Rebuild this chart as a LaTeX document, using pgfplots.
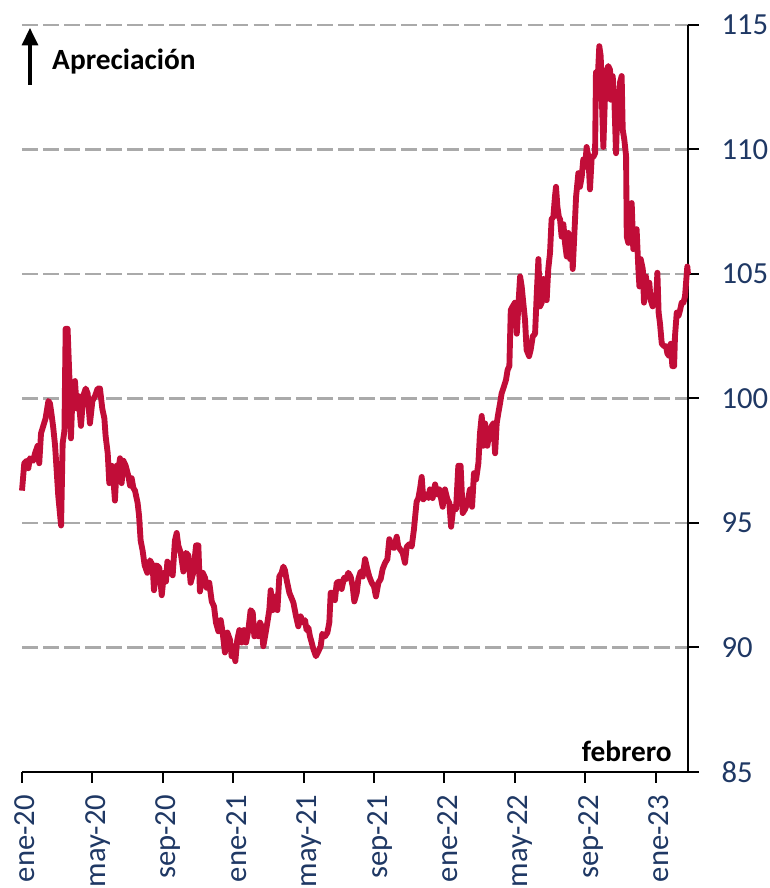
\documentclass[border=0pt]{standalone}
\usepackage{fontspec}
\setmainfont{Carlito}
\usepackage{pgfplots}
\pgfplotsset{compat=1.18}
\usetikzlibrary{arrows.meta}
\definecolor{linered}{RGB}{193,13,56}
\definecolor{ticknavy}{RGB}{31,56,100}
\definecolor{gridgray}{RGB}{170,170,170}
\begin{document}
\begin{tikzpicture}
\begin{axis}[
  at={(0,0)}, anchor=south west,
  scale only axis, width=499.5pt, height=560.25pt,
  xmin=0, xmax=37.84, ymin=85, ymax=115,
  axis x line*=bottom, axis y line*=right,
  axis line style={line width=1.5pt, black, -},
  xtick={0,4,...,36},
  xticklabels={ene-20,may-20,sep-20,ene-21,may-21,sep-21,ene-22,may-22,sep-22,ene-23},
  ytick={85,90,...,115},
  tick align=outside,
  major tick length=8pt,
  tick style={line width=1.5pt, black},
  ymajorgrids,
  grid style={line width=1.7pt, gridgray, dash pattern=on 11.8pt off 4pt},
  xticklabel style={yshift=-9pt, rotate=90, anchor=east, inner sep=0pt, text height=19.5pt, text depth=0pt, font=\fontsize{23}{27}\selectfont, text=ticknavy},
  yticklabel style={xshift=17pt, anchor=west, inner sep=0pt, font=\fontsize{23}{27}\selectfont, text=ticknavy},
  /pgf/number format/assume math mode=true,
  clip=false,
]
\addplot[linered, line width=4.4pt, line join=round] table {
x y
0.00 96.3
0.13 97.4
0.27 97.5
0.36 97.2
0.45 97.6
0.64 97.5
0.74 97.8
0.89 98.1
0.98 97.4
1.08 98.6
1.21 98.9
1.34 99.2
1.50 99.9
1.59 99.8
1.69 99.3
1.78 98.8
1.88 98.1
1.97 97.1
2.06 96.1
2.22 94.9
2.31 98.2
2.41 98.7
2.48 102.8
2.59 102.8
2.69 100.9
2.78 98.4
2.88 100.4
3.01 100.7
3.11 99.6
3.20 100.1
3.35 98.9
3.48 100.1
3.62 100.4
3.73 100.2
3.86 99.0
4.00 99.9
4.15 100.1
4.30 100.4
4.43 100.4
4.56 99.6
4.68 99.2
4.75 98.5
4.87 97.8
4.96 96.6
5.09 97.3
5.19 96.8
5.28 95.9
5.38 97.3
5.47 97.1
5.57 97.6
5.66 96.6
5.76 97.5
5.89 97.3
6.04 96.9
6.14 96.5
6.23 96.8
6.33 96.4
6.42 96.3
6.57 95.8
6.65 95.3
6.74 94.3
6.85 93.9
6.97 93.3
7.12 93.0
7.27 93.5
7.42 93.3
7.50 92.3
7.65 93.3
7.80 93.2
7.94 92.1
8.07 93.0
8.18 92.65
8.26 93.45
8.41 93.2
8.56 92.9
8.69 94.3
8.79 94.6
8.88 94.1
9.02 93.8
9.17 93.05
9.32 93.8
9.45 93.7
9.58 92.6
9.73 93.0
9.89 94.1
10.02 94.1
10.11 92.25
10.27 93.0
10.40 92.8
10.49 92.4
10.64 92.6
10.78 91.85
10.91 91.65
11.02 91.0
11.16 90.65
11.29 91.1
11.40 90.6
11.53 89.8
11.67 90.6
11.82 90.3
11.91 89.65
12.01 90.05
12.12 89.45
12.23 90.3
12.35 90.7
12.48 90.2
12.61 90.7
12.73 90.2
12.86 90.7
12.99 91.5
13.11 91.4
13.20 90.45
13.33 90.85
13.43 90.45
13.52 91.0
13.62 90.85
13.71 90.05
13.81 90.45
13.94 91.0
14.05 91.5
14.13 92.3
14.24 91.5
14.38 92.05
14.51 91.5
14.62 92.85
14.75 93.0
14.85 93.25
14.94 93.1
15.04 92.7
15.19 92.2
15.42 91.8
15.57 91.25
15.70 90.85
15.83 91.25
15.98 91.0
16.08 91.1
16.17 90.7
16.27 90.8
16.36 90.45
16.46 90.2
16.55 89.95
16.70 89.65
16.84 89.85
16.97 90.05
17.06 90.55
17.22 90.45
17.35 90.6
17.46 91.0
17.54 92.2
17.65 92.2
17.78 91.9
17.88 92.6
18.03 92.65
18.16 92.35
18.30 92.8
18.41 92.75
18.54 93.0
18.67 92.85
18.79 92.45
18.88 91.85
19.02 92.2
19.11 92.75
19.24 93.05
19.36 92.85
19.49 93.55
19.62 93.15
19.73 92.85
19.87 92.6
20.00 92.45
20.11 92.05
20.25 92.6
20.38 92.75
20.49 93.15
20.63 93.4
20.76 93.55
20.87 94.35
21.00 94.05
21.14 94.0
21.29 94.45
21.38 94.05
21.48 93.95
21.63 93.8
21.76 93.4
21.86 94.05
22.01 94.15
22.14 94.05
22.27 94.75
22.33 95.2
22.42 95.85
22.52 96.0
22.61 96.35
22.71 96.85
22.80 95.95
22.95 96.15
23.09 96.0
23.18 96.35
23.33 96.0
23.47 96.55
23.60 96.15
23.71 96.35
23.75 96.2
23.90 95.65
24.03 96.35
24.17 95.95
24.28 95.8
24.38 94.85
24.51 95.65
24.66 95.55
24.79 97.3
24.92 97.3
25.04 95.4
25.17 95.55
25.30 95.8
25.45 96.35
25.57 95.65
25.68 97.0
25.80 96.75
25.93 97.4
26.02 98.6
26.12 99.3
26.21 98.1
26.31 99.0
26.44 98.1
26.55 98.6
26.69 98.9
26.78 99.0
26.88 97.8
26.97 99.0
27.06 99.4
27.16 99.8
27.25 100.2
27.39 100.5
27.50 100.75
27.59 101.15
27.69 101.3
27.77 103.55
27.88 103.7
28.01 103.85
28.11 102.6
28.20 103.7
28.30 104.9
28.39 104.5
28.48 103.85
28.58 103.15
28.67 101.95
28.81 101.7
28.90 101.95
29.02 102.5
29.15 102.6
29.24 104.1
29.34 105.6
29.43 103.7
29.53 103.85
29.62 104.8
29.72 104.1
29.81 103.95
29.90 105.2
30.00 105.85
30.09 107.2
30.19 107.3
30.28 108.1
30.34 108.5
30.42 107.7
30.50 107.3
30.57 107.2
30.66 106.5
30.76 107.0
30.85 106.25
30.95 105.7
31.04 106.65
31.14 105.6
31.23 106.25
31.29 105.2
31.36 106.25
31.48 108.1
31.61 109.05
31.70 108.5
31.80 108.9
31.89 109.6
31.99 109.3
32.08 110.1
32.18 109.7
32.27 108.4
32.37 109.7
32.46 109.7
32.56 109.85
32.61 113.1
32.69 112.55
32.80 114.15
32.88 113.75
32.94 112.15
33.03 110.1
33.13 112.3
33.22 113.2
33.31 113.35
33.41 113.2
33.45 112.0
33.56 112.95
33.66 111.9
33.75 109.85
33.83 111.75
33.90 111.2
33.98 112.7
34.07 112.95
34.13 110.8
34.22 110.4
34.32 109.75
34.36 106.5
34.45 106.25
34.55 106.5
34.64 107.85
34.73 106.0
34.83 106.25
34.92 106.8
35.02 105.2
35.08 104.5
35.15 105.6
35.27 105.2
35.34 103.85
35.45 104.9
35.53 104.1
35.64 104.65
35.72 103.95
35.83 103.7
35.91 104.1
36.02 103.85
36.10 105.05
36.17 103.45
36.25 103.0
36.35 102.2
36.48 102.1
36.59 102.1
36.67 101.8
36.78 101.7
36.86 102.2
36.95 101.3
37.05 101.3
37.10 102.5
37.20 103.45
37.29 103.3
37.39 103.55
37.48 103.85
37.58 103.85
37.67 104.1
37.73 104.65
37.80 105.3
37.84 105.0
};
\draw[line width=2.4pt, -{Triangle[width=12pt,length=13pt]}] (rel axis cs:0.012,0.9197) -- (rel axis cs:0.012,0.996);
\node[anchor=base west, inner sep=0pt, font=\bfseries\fontsize{22}{26}\selectfont] at (rel axis cs:0.045,0.9398) {Apreciación};
\node[anchor=base east, inner sep=0pt, font=\bfseries\fontsize{22}{26}\selectfont] at (rel axis cs:0.976,0.0134) {febrero};
\end{axis}
\pgfresetboundingbox
\path (-16.5pt,-87pt) rectangle (561pt,579pt);
\end{tikzpicture}
\end{document}
